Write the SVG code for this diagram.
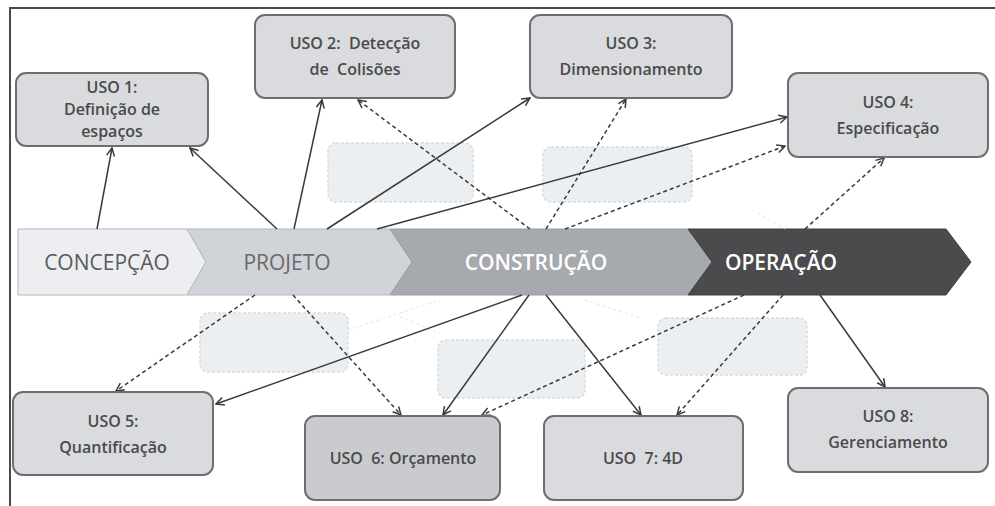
<svg xmlns="http://www.w3.org/2000/svg" width="995" height="506" viewBox="0 0 995 506">
<defs>
<marker id="ah" markerWidth="10" markerHeight="10" refX="9" refY="5" orient="auto" markerUnits="userSpaceOnUse">
<path d="M1,1 L9,5 L1,9" fill="none" stroke="#3a3a3a" stroke-width="1.5"/>
</marker>
</defs>
<style>
.box{fill:#d9dbde;stroke:#6e6e6e;stroke-width:2}
.box6{fill:#c9cbce;stroke:#6e6e6e;stroke-width:2}
.ghost{fill:#eceff2;stroke:#d8dce0;stroke-width:1.5;stroke-dasharray:3 2}
.t{font-family:"Open Sans","Liberation Sans",sans-serif;font-size:16px;fill:#4a4a4a;text-anchor:middle;font-weight:600}
.band{font-family:"Open Sans","Liberation Sans",sans-serif;font-size:21px;text-anchor:middle}
.sol{stroke:#3a3a3a;stroke-width:1.5;fill:none;marker-end:url(#ah)}
.dash{stroke:#3a3a3a;stroke-width:1.5;fill:none;stroke-dasharray:4 3;marker-end:url(#ah)}
.faint{stroke:#e2e5e8;stroke-width:1;fill:none;stroke-dasharray:3 3}
</style>
<rect width="995" height="506" fill="#ffffff"/>
<path d="M10,506 L10,8 L995,8" fill="none" stroke="#4a4a4a" stroke-width="2"/>

<g id="ghosts">
<rect class="ghost" x="328" y="143" width="145" height="59" rx="8"/>
<rect class="ghost" x="543" y="147" width="149" height="55" rx="8"/>
<rect class="ghost" x="200" y="313" width="148" height="59" rx="8"/>
<rect class="ghost" x="438" y="340" width="147" height="58" rx="8"/>
<rect class="ghost" x="658" y="318" width="149" height="57" rx="8"/>
</g>

<g id="phases">
<polygon points="18,229 187,229 206,262 187,295 18,295" fill="#eceef1" stroke="#b4b7bb" stroke-width="1"/>
<polygon points="187,229 390,229 412,262 390,295 187,295 206,262" fill="#d0d3d7" stroke="#b4b7bb" stroke-width="1"/>
<polygon points="390,229 688,229 712,262 688,295 390,295 412,262" fill="#a6a9ad" stroke="#9a9da1" stroke-width="1"/>
<polygon points="688,229 946,229 971,262 946,295 688,295 712,262" fill="#4b4b4d" stroke="#3f3f41" stroke-width="1"/>
<text class="band" x="107" y="270" fill="#5a5a5a">CONCEPÇÃO</text>
<text class="band" x="287" y="270" fill="#6a6a6a">PROJETO</text>
<text class="band" x="536" y="270" fill="#ffffff" font-weight="600">CONSTRUÇÃO</text>
<text class="band" x="781" y="270" fill="#ffffff" font-weight="600">OPERAÇÃO</text>
</g>

<g id="connectors">
<line class="faint" x1="348" y1="330" x2="440" y2="300"/>
<line class="faint" x1="400" y1="317" x2="440" y2="333"/>
<line class="faint" x1="758" y1="213" x2="785" y2="229"/>
<line class="faint" x1="585" y1="300" x2="640" y2="318"/>
<line class="sol" x1="97" y1="229" x2="112" y2="148"/>
<line class="sol" x1="277" y1="229" x2="190" y2="148"/>
<line class="sol" x1="294" y1="229" x2="322" y2="100"/>
<line class="sol" x1="327" y1="229" x2="530" y2="98"/>
<line class="sol" x1="377" y1="229" x2="787" y2="117"/>
<line class="sol" x1="522" y1="295" x2="216" y2="404"/>
<line class="sol" x1="529" y1="295" x2="443" y2="415"/>
<line class="sol" x1="546" y1="295" x2="641" y2="415"/>
<line class="sol" x1="820" y1="295" x2="885" y2="387"/>
<line class="dash" x1="530" y1="229" x2="358" y2="100"/>
<line class="dash" x1="546" y1="229" x2="626" y2="99"/>
<line class="dash" x1="565" y1="229" x2="785" y2="146"/>
<line class="dash" x1="805" y1="229" x2="884" y2="158"/>
<line class="dash" x1="255" y1="295" x2="116" y2="391"/>
<line class="dash" x1="293" y1="295" x2="401" y2="415"/>
<line class="dash" x1="744" y1="295" x2="482" y2="415"/>
<line class="dash" x1="783" y1="295" x2="677" y2="415"/>
</g>

<g id="uso1">
<rect class="box" x="16" y="73" width="192" height="73" rx="10"/>
<text class="t" x="112" y="93">USO 1:</text>
<text class="t" x="112" y="115">Definição de</text>
<text class="t" x="112" y="137">espaços</text>
</g>
<g id="uso2">
<rect class="box" x="255" y="15" width="200" height="83" rx="10"/>
<text class="t" x="355" y="49" xml:space="preserve">USO 2:  Detecção</text>
<text class="t" x="355" y="75" xml:space="preserve">de  Colisões</text>
</g>
<g id="uso3">
<rect class="box" x="530" y="15" width="202" height="83" rx="10"/>
<text class="t" x="631" y="49">USO 3:</text>
<text class="t" x="631" y="75">Dimensionamento</text>
</g>
<g id="uso4">
<rect class="box" x="788" y="73" width="200" height="84" rx="10"/>
<text class="t" x="888" y="108">USO 4:</text>
<text class="t" x="888" y="134">Especificação</text>
</g>
<g id="uso5">
<rect class="box" x="13" y="392" width="200" height="83" rx="10"/>
<text class="t" x="113" y="427">USO 5:</text>
<text class="t" x="113" y="453">Quantificação</text>
</g>
<g id="uso6">
<rect class="box6" x="305" y="416" width="195" height="84" rx="10"/>
<text class="t" x="403" y="464" xml:space="preserve">USO  6: Orçamento</text>
</g>
<g id="uso7">
<rect class="box" x="544" y="416" width="199" height="84" rx="10"/>
<text class="t" x="643" y="464" xml:space="preserve">USO  7: 4D</text>
</g>
<g id="uso8">
<rect class="box" x="788" y="388" width="200" height="84" rx="10"/>
<text class="t" x="888" y="422">USO 8:</text>
<text class="t" x="888" y="448">Gerenciamento</text>
</g>
</svg>
